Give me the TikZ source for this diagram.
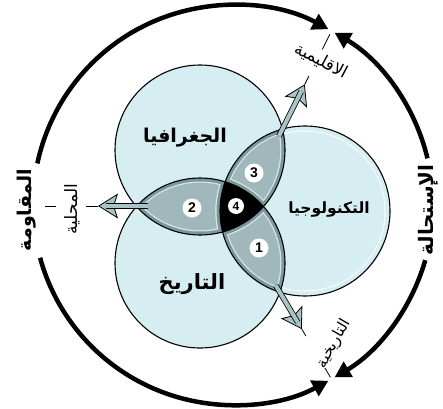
\documentclass[tikz,border=0pt]{standalone}
\usepackage{fontspec}
\usetikzlibrary{arrows.meta,calc}
\setmainfont{Liberation Sans}
\newfontfamily\arabicfont[Script=Arabic]{DejaVu Sans}
\TeXXeTstate=1
\definecolor{circfill}{RGB}{214,237,242}
\definecolor{lensdark}{RGB}{122,151,156}
\definecolor{lensmid}{RGB}{160,184,187}
\definecolor{lensline}{RGB}{214,228,229}
\definecolor{arrowfill}{RGB}{168,196,198}
\newcommand{\artxt}[1]{\beginR #1\endR}
\newcommand{\lensinset}[8]{\begin{scope}\clip (#1) circle[radius=#2-#7]; \clip (#3) circle[radius=#4-#7]; \fill[#8,even odd rule] (0,0) rectangle (443,408) (#5) circle[radius=#6+#7];\end{scope}}
\begin{document}
\begin{tikzpicture}[x=1pt,y=1pt,
  outline/.style={draw=black,line width=1.1pt},
  numcirc/.style={circle,fill=white,inner sep=0pt,minimum size=19pt,font=\bfseries\fontsize{14}{14}\selectfont},
  biglabel/.style={font=\arabicfont\bfseries\fontsize{19}{19}\selectfont},
  ringlabel/.style={font=\arabicfont\bfseries\fontsize{19}{19}\selectfont,rotate=90,inner sep=1pt},
  smalllabel/.style={font=\arabicfont\fontsize{17}{17}\selectfont,inner sep=0pt},
  ringarrow/.style={line width=4.5pt,-{Triangle[length=16pt,width=17pt]}},
  thinline/.style={line width=0.8pt},
  shaft/.style={draw=black,line width=0.8pt,double=arrowfill,double distance=4pt},
  headtip/.style={line width=0.8pt,-{Stealth[length=20pt,width=25pt,inset=4pt,fill=arrowfill]}}
]
\useasboundingbox (0,0) rectangle (443,408);
\fill[white] (0,0) rectangle (443,408);
\def\rG{85}\def\rH{85}\def\rT{85}
\coordinate (G) at (200,258);
\coordinate (H) at (200,145);
\coordinate (T) at (305,197);
\coordinate (C) at (233,203);
% circles
\fill[circfill] (G) circle[radius=\rG];
\fill[circfill] (H) circle[radius=\rH];
\fill[circfill] (T) circle[radius=\rT];
\draw[white,line width=1pt,opacity=0.8] (T) circle[radius=\rT-5];
% lenses
\begin{scope}\clip (G) circle[radius=\rG]; \fill[lensdark] (H) circle[radius=\rH]; \fill[lensdark] (T) circle[radius=\rT];\end{scope}
\begin{scope}\clip (H) circle[radius=\rH]; \fill[lensdark] (T) circle[radius=\rT];\end{scope}
\lensinset{G}{\rG}{H}{\rH}{T}{\rT}{3.5}{lensline}
\lensinset{G}{\rG}{H}{\rH}{T}{\rT}{4.8}{lensmid}
\lensinset{G}{\rG}{T}{\rT}{H}{\rH}{3.5}{lensline}
\lensinset{G}{\rG}{T}{\rT}{H}{\rH}{4.8}{lensmid}
\lensinset{H}{\rH}{T}{\rT}{G}{\rG}{3.5}{lensline}
\lensinset{H}{\rH}{T}{\rT}{G}{\rG}{4.8}{lensmid}
\begin{scope}\clip (G) circle[radius=\rG]; \clip (H) circle[radius=\rH]; \fill[black] (T) circle[radius=\rT];\end{scope}
\draw[outline] (G) circle[radius=\rG];
\draw[outline] (H) circle[radius=\rH];
\draw[outline] (T) circle[radius=\rT];
% arrow geometry
\coordinate (U) at (282.4,279);
\coordinate (D) at (279.8,115.8);
\coordinate (Ustart) at ($(U)+-8*(0.4476,0.8943)$);
\coordinate (Ua) at ($(U)+30*(0.4476,0.8943)$);
\coordinate (Uend) at ($(U)+42*(0.4476,0.8943)$);
\coordinate (Utip) at ($(U)+50*(0.4476,0.8943)$);
\coordinate (Ul1) at ($(U)+59*(0.4476,0.8943)$);
\coordinate (Ul2) at ($(U)+89*(0.4476,0.8943)$);
\coordinate (Ul3) at ($(U)+106*(0.4476,0.8943)$);
\coordinate (Dstart) at ($(D)+-8*(0.5114,-0.8595)$);
\coordinate (Da) at ($(D)+22*(0.5114,-0.8595)$);
\coordinate (Dend) at ($(D)+35*(0.5114,-0.8595)$);
\coordinate (Dtip) at ($(D)+43*(0.5114,-0.8595)$);
\coordinate (Dl1) at ($(D)+51*(0.5114,-0.8595)$);
\coordinate (Dl2) at ($(D)+88*(0.5114,-0.8595)$);
\coordinate (Dl3) at ($(D)+99*(0.5114,-0.8595)$);
\coordinate (Lstart) at (148,202);
\coordinate (La) at (128,202);
\coordinate (Lend) at (106,202);
\coordinate (Ltip) at (98,202);
\coordinate (Ll1) at (86,202);
\coordinate (Ld1) at (56,202);
\coordinate (Ld2) at (45,202);
% arrows
\draw[headtip] (Ua) -- (Utip);
\draw[shaft] (Ustart) -- (Uend);
\draw[headtip] (Da) -- (Dtip);
\draw[shaft] (Dstart) -- (Dend);
\draw[headtip] (La) -- (Ltip);
\draw[shaft] (Lstart) -- (Lend);
\draw[thinline] (Utip) -- (Ul1);
\draw[thinline] (Ul2) -- (Ul3);
\draw[thinline] (Dtip) -- (Dl1);
\draw[thinline] (Dl2) -- (Dl3);
\draw[thinline] (Ltip) -- (Ll1);
\draw[thinline] (Ld1) -- (Ld2);
% numbers
\node[numcirc] (n3) at (254,235) {3};
\node[numcirc] (n2) at (192,200) {2};
\node[numcirc,minimum size=16pt,font=\bfseries\fontsize{12}{12}\selectfont] (n4) at (236,202) {4};
\node[numcirc] (n1) at (259,160) {1};
% labels
\node[biglabel] (geo) at (185,270) {\artxt{الجغرافيا}};
\node[biglabel,font=\arabicfont\bfseries\fontsize{15.5}{15.5}\selectfont] (tech) at (329,198) {\artxt{التكنولوجيا}};
\node[biglabel,font=\arabicfont\bfseries\fontsize{21}{21}\selectfont] (hist) at (192,124) {\artxt{التاريخ}};
\node[smalllabel,rotate=-28] (lreg) at (321,347) {\artxt{الاقليمية}};
\node[smalllabel,rotate=60,font=\arabicfont\fontsize{15.5}{15.5}\selectfont] (lhis) at (334,64) {\artxt{التاريخية}};
\node[smalllabel,rotate=90] (lloc) at (72,199) {\artxt{المحلية}};
\node[ringlabel] (resist) at (27,198) {\artxt{المقاومة}};
\node[ringlabel,font=\arabicfont\bfseries\fontsize{20}{20}\selectfont] (imposs) at (428,198) {\artxt{الإستحالة}};
% ring
\draw[ringarrow] ($(C)+(168:200)$) arc[start angle=168,end angle=61.5,radius=200];
\draw[ringarrow] ($(C)+(13.5:200)$) arc[start angle=13.5,end angle=59.5,radius=200];
\draw[ringarrow] ($(C)+(-16:200)$) arc[start angle=-16,end angle=-59.5,radius=200];
\draw[ringarrow] ($(C)+(195.3:200)$) arc[start angle=195.3,end angle=298.5,radius=200];
\end{tikzpicture}
\end{document}
